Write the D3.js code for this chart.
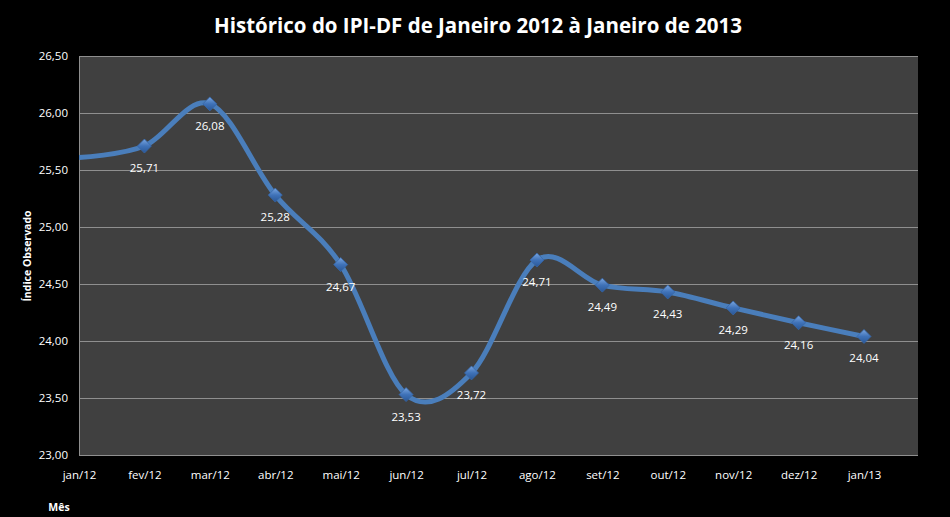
<!DOCTYPE html>
<html><head><meta charset="utf-8">
<script src="https://cdn.jsdelivr.net/npm/d3@7"></script>
<style>
html,body{margin:0;padding:0;background:#000;}
svg{display:block;}
text{font-family:"Open Sans","Noto Sans",sans-serif;}
</style></head>
<body>
<script>
const categories = ["jan/12","fev/12","mar/12","abr/12","mai/12","jun/12","jul/12","ago/12","set/12","out/12","nov/12","dez/12","jan/13"];
const values = [25.61,25.71,26.08,25.28,24.67,23.53,23.72,24.71,24.49,24.43,24.29,24.16,24.04];
const showLabel = [false,true,true,true,true,true,true,true,true,true,true,true,true];
const yTicks = [23.0,23.5,24.0,24.5,25.0,25.5,26.0,26.5];
const titleText = "Histórico do IPI-DF de Janeiro 2012 à Janeiro de 2013";
const yTitle = "Índice Observado";
const xTitle = "Mês";

const W = 950, H = 517;
const plot = {left:79, right:918, top:56, bottom:455};
const fmt = v => d3.format(".2f")(v).replace(".", ",");

const svg = d3.select("body").append("svg").attr("width", W).attr("height", H);
svg.append("rect").attr("width", W).attr("height", H).attr("fill", "#000");

const defs = svg.append("defs");
const grad = defs.append("linearGradient").attr("id","mk").attr("x1","0").attr("y1","0").attr("x2","0").attr("y2","1");
grad.append("stop").attr("offset","0%").attr("stop-color","#7aa6e0");
grad.append("stop").attr("offset","50%").attr("stop-color","#3f72b8");
grad.append("stop").attr("offset","100%").attr("stop-color","#2a5796");
defs.append("clipPath").attr("id","pc").append("rect")
  .attr("x", plot.left).attr("y", plot.top).attr("width", plot.right-plot.left).attr("height", plot.bottom-plot.top);

const x = d3.scalePoint().domain(categories).range([79, 864]);
const y = d3.scaleLinear().domain([23, 26.5]).range([plot.bottom, plot.top]);

svg.append("rect").attr("x", plot.left).attr("y", plot.top)
  .attr("width", plot.right-plot.left).attr("height", plot.bottom-plot.top)
  .attr("fill", "#404040");

// gridlines
svg.append("g").selectAll("line").data(yTicks.slice(1)).join("line")
  .attr("x1", plot.left).attr("x2", plot.right)
  .attr("y1", d => Math.round(y(d))+0.5).attr("y2", d => Math.round(y(d))+0.5)
  .attr("stroke", "#8f8f8f").attr("stroke-width", 1);

// plot border left & bottom
svg.append("line").attr("x1", plot.left+0.5).attr("x2", plot.left+0.5).attr("y1", plot.top).attr("y2", plot.bottom)
  .attr("stroke","#8f8f8f");
svg.append("line").attr("x1", plot.left).attr("x2", plot.right).attr("y1", plot.bottom+0.5).attr("y2", plot.bottom+0.5)
  .attr("stroke","#8f8f8f");

// y axis labels
const yAxis = d3.axisLeft(y).tickValues(yTicks).tickFormat(fmt).tickSize(0).tickPadding(11);
const ya = svg.append("g").attr("transform", `translate(${plot.left},0)`).call(yAxis);
ya.select(".domain").remove();
ya.selectAll("text").attr("fill","#fff").style("font-size","11.5px").style("font-family",'"Open Sans","Noto Sans",sans-serif');

// x axis labels
const xAxis = d3.axisBottom(x).tickSize(0).tickPadding(16);
const xa = svg.append("g").attr("transform", `translate(0,${plot.bottom})`).call(xAxis);
xa.select(".domain").remove();
xa.selectAll("text").attr("fill","#fff").style("font-size","11.5px").style("font-family",'"Open Sans","Noto Sans",sans-serif');

// line
const data = categories.map((c,i) => ({c, v: values[i], show: showLabel[i]}));
const line = d3.line().x(d => x(d.c)).y(d => y(d.v)).curve(d3.curveCardinal.tension(0));
svg.append("path").datum(data).attr("d", line)
  .attr("clip-path","url(#pc)")
  .attr("fill","none").attr("stroke","#4a7ebb").attr("stroke-width",5).attr("stroke-linejoin","round");

// markers
const ms = 7;
svg.append("g").selectAll("path").data(data.filter(d => d.show)).join("path")
  .attr("d", d => `M${x(d.c)},${y(d.v)-ms}L${x(d.c)+ms},${y(d.v)}L${x(d.c)},${y(d.v)+ms}L${x(d.c)-ms},${y(d.v)}Z`)
  .attr("fill","url(#mk)").attr("stroke","#3566a8").attr("stroke-width",0.8);

// data labels
svg.append("g").selectAll("text").data(data.filter(d => d.show)).join("text")
  .attr("x", d => x(d.c)).attr("y", d => y(d.v)+26)
  .attr("text-anchor","middle").attr("fill","#fff").style("font-size","11.5px")
  .text(d => fmt(d.v));

// titles
svg.append("text").attr("x", 478).attr("y", 33).attr("text-anchor","middle")
  .attr("fill","#fff").style("font-size","20.5px").style("font-weight","bold").text(titleText);
svg.append("text").attr("transform","translate(31,256) rotate(-90)").attr("text-anchor","middle")
  .attr("fill","#fff").style("font-size","10.5px").style("font-weight","bold").text(yTitle);
svg.append("text").attr("x", 59).attr("y", 511).attr("text-anchor","middle")
  .attr("fill","#fff").style("font-size","10.5px").style("font-weight","bold").text(xTitle);
</script>
</body></html>
